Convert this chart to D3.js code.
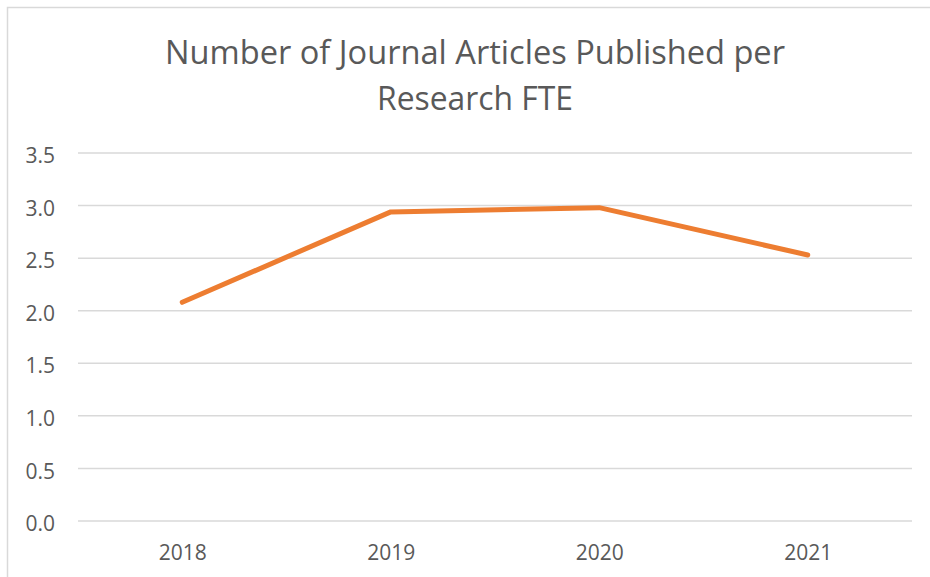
<!DOCTYPE html>
<html>
<head>
<meta charset="utf-8">
<script src="https://cdn.jsdelivr.net/npm/d3@7"></script>
<style>
  body { margin: 0; background: #fff; }
  text { font-family: "Open Sans", "Noto Sans", sans-serif; fill: #595959; }
</style>
</head>
<body>
<div id="chart"></div>
<script>
var years = ["2018", "2019", "2020", "2021"];
var articlesPerFte = [2.08, 2.94, 2.98, 2.53];
var yTicks = [0, 0.5, 1.0, 1.5, 2.0, 2.5, 3.0, 3.5];
var titleLines = ["Number of Journal Articles Published per", "Research FTE"];

var svgWidth = 930;
var svgHeight = 577;

var margin = { top: 153, right: 18, bottom: 56, left: 78 };
var width = svgWidth - margin.left - margin.right;
var height = svgHeight - margin.top - margin.bottom;

var svg = d3.select("#chart")
  .append("svg")
  .attr("width", svgWidth)
  .attr("height", svgHeight);

// chart frame (cropped on the right and bottom)
svg.append("path")
  .attr("d", "M7.5,577 L7.5,7.5 L930,7.5")
  .attr("fill", "none")
  .attr("stroke", "#d9d9d9")
  .attr("stroke-width", 1.5);

// title
svg.append("text")
  .attr("x", 475).attr("y", 64)
  .attr("text-anchor", "middle")
  .attr("font-size", 32)
  .attr("textLength", 620)
  .attr("lengthAdjust", "spacingAndGlyphs")
  .text(titleLines[0]);
svg.append("text")
  .attr("x", 475).attr("y", 110)
  .attr("text-anchor", "middle")
  .attr("font-size", 32)
  .attr("textLength", 196)
  .attr("lengthAdjust", "spacingAndGlyphs")
  .text(titleLines[1]);

var chartGroup = svg.append("g")
  .attr("transform", `translate(${margin.left}, ${margin.top})`);

var xScale = d3.scalePoint()
  .domain(years)
  .range([0, width])
  .padding(0.5);

var yScale = d3.scaleLinear()
  .domain([0, 3.5])
  .range([height, 0]);

// gridlines
chartGroup.append("g")
  .selectAll("line")
  .data(yTicks)
  .enter()
  .append("line")
  .attr("x1", 0)
  .attr("x2", width)
  .attr("y1", d => yScale(d))
  .attr("y2", d => yScale(d))
  .attr("stroke", "#d9d9d9")
  .attr("stroke-width", 1.5);

// y axis labels
var yAxis = d3.axisLeft(yScale).tickValues(yTicks).tickFormat(d3.format(".1f")).tickSize(0).tickPadding(23);
chartGroup.append("g")
  .call(yAxis)
  .call(g => g.select(".domain").remove())
  .selectAll("text")
  .attr("dy", "0.46em")
  .attr("font-size", 21)
  .attr("font-family", "Open Sans, sans-serif")
  .attr("fill", "#595959");

// x axis labels
var xAxis = d3.axisBottom(xScale).tickSize(0).tickPadding(24);
chartGroup.append("g")
  .attr("transform", `translate(0,${height})`)
  .call(xAxis)
  .call(g => g.select(".domain").remove())
  .selectAll("text")
  .attr("font-size", 21)
  .attr("font-family", "Open Sans, sans-serif")
  .attr("fill", "#595959");

// line
var line = d3.line()
  .x((d, i) => xScale(years[i]))
  .y(d => yScale(d));

chartGroup.append("path")
  .datum(articlesPerFte)
  .attr("d", line)
  .attr("fill", "none")
  .attr("stroke", "#ed7d31")
  .attr("stroke-width", 5)
  .attr("stroke-linecap", "round")
  .attr("stroke-linejoin", "round");
</script>
</body>
</html>
